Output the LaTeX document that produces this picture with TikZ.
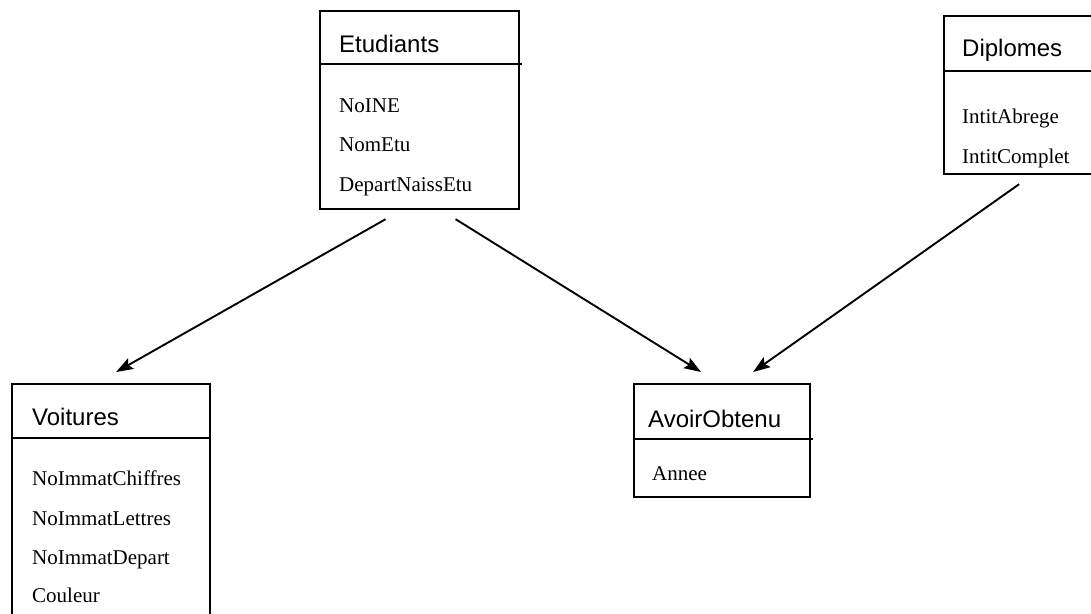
\documentclass[tikz,border=0pt]{standalone}
\usepackage{fontspec}
\setmainfont{Liberation Serif}
\newfontfamily\titlefont{Liberation Sans}
\usetikzlibrary{arrows.meta,positioning}

\begin{document}
\begin{tikzpicture}[
  x=1pt,
  y=-1pt,
  >={Stealth[length=17pt,width=12pt,inset=3pt]},
  table/.style={
    draw,
    line width=2.2pt,
    anchor=north west,
    inner sep=0pt
  },
  title/.style={anchor=base west,inner sep=0pt,font=\titlefont\fontsize{24}{28}\selectfont},
  attr/.style={anchor=base west,inner sep=0pt,font=\fontsize{21}{25}\selectfont},
  sep/.style={line width=1.8pt},
  link/.style={->,line width=1.9pt}
]
  \path[use as bounding box,clip] (0,0) rectangle (1091,613);

  % tables
  \node[table,minimum width=199pt,minimum height=198pt] (etu) at (319,10) {};
  \node[table,minimum width=152pt,minimum height=158pt] (dip) at (943,15) {};
  \node[table,minimum width=198pt,minimum height=240pt] (voit) at (11,383) {};
  \node[table,minimum width=176pt,minimum height=113pt] (avoir) at (633,383) {};

  \draw[sep] ([yshift=-54pt]etu.north west) -- ([yshift=-54pt,xshift=2pt]etu.north east);
  \draw[sep] ([yshift=-56pt]dip.north west) -- ([yshift=-56pt]dip.north east);
  \draw[sep] ([yshift=-55pt]voit.north west) -- ([yshift=-55pt]voit.north east);
  \draw[sep] ([yshift=-56pt]avoir.north west) -- ([yshift=-56pt,xshift=2pt]avoir.north east);

  \node[title] (etuT) at (339,52) {Etudiants};
  \node[attr] (etuA) at (339,112) {NoINE};
  \node[attr] (etuB) at (339,151) {NomEtu};
  \node[attr] (etuC) at (339,191) {DepartNaissEtu};

  \node[title] (dipT) at (962,56) {Diplomes};
  \node[attr] (dipA) at (962,123) {IntitAbrege};
  \node[attr] (dipB) at (962,163) {IntitComplet};

  \node[title] (voitT) at (32,425) {Voitures};
  \node[attr] (voitA) at (32,485) {NoImmatChiffres};
  \node[attr] (voitB) at (32,525) {NoImmatLettres};
  \node[attr] (voitC) at (32,564) {NoImmatDepart};
  \node[attr] (voitD) at (32,602) {Couleur};

  \node[title] (avoirT) at (648,427) {AvoirObtenu};
  \node[attr] (avoirA) at (652,480) {Annee};

  % links
  \coordinate (etuL) at ([xshift=-34pt,yshift=-9pt]etu.south);
  \coordinate (etuR) at ([xshift=36pt,yshift=-9pt]etu.south);
  \coordinate (dipS) at ([xshift=-1pt,yshift=-9pt]dip.south);
  \coordinate (voitN) at ([xshift=5pt,yshift=11pt]voit.north);
  \coordinate (avoirL) at ([xshift=-21pt,yshift=11pt]avoir.north);
  \coordinate (avoirR) at ([xshift=31pt,yshift=11pt]avoir.north);

  \draw[link] (etuL) -- (voitN);
  \draw[link] (etuR) -- (avoirL);
  \draw[link] (dipS) -- (avoirR);
\end{tikzpicture}
\end{document}
